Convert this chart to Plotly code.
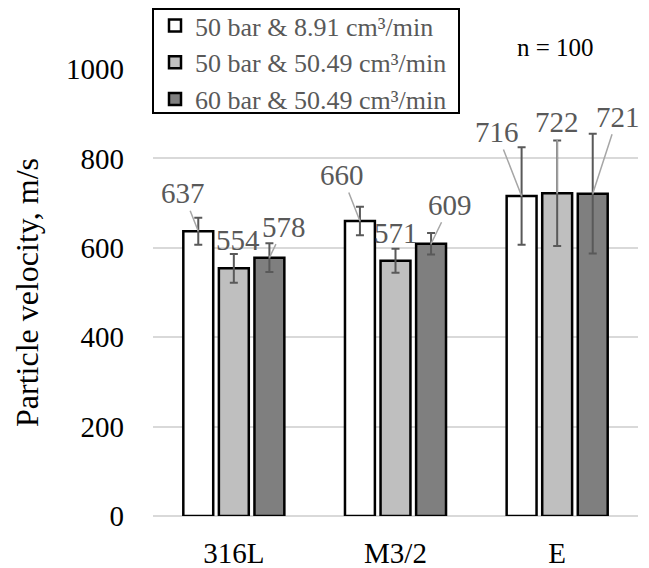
import plotly.graph_objects as go

# Materials on the x axis
categories = ["316L", "M3/2", "E"]

# Spray conditions (legend entries)
series_names = [
    "50 bar & 8.91 cm³/min",
    "50 bar & 50.49 cm³/min",
    "60 bar & 50.49 cm³/min",
]

# Mean particle velocity, m/s
velocity_5089 = [637, 660, 716]
velocity_5050 = [554, 571, 722]
velocity_6050 = [578, 609, 721]

# Standard deviation, m/s
std_5089 = [30, 32, 109]
std_5050 = [32, 27, 118]
std_6050 = [32, 24, 134]

y_ticks = [0, 200, 400, 600, 800, 1000]
sample_note = "n = 100"

means = [velocity_5089, velocity_5050, velocity_6050]
stds = [std_5089, std_5050, std_6050]
fills = ["#ffffff", "#bfbfbf", "#7f7f7f"]

SERIF = "Liberation Serif"
LABEL_GREY = "#595959"

# plot area in pixels
PL, PR, PT, PB = 153, 638, 69, 516
PW, PH = PR - PL, PB - PT


def px_x(px):
    return (px - PL) / PW


def px_y(py):
    return (PB - py) / PH


bar_w = 0.185
offsets = [-0.3125, -0.0925, 0.1275]
xpos = list(range(len(categories)))

fig = go.Figure()
for name, vals, err, fill, off in zip(series_names, means, stds, fills, offsets):
    fig.add_trace(go.Bar(
        x=xpos, y=vals, name=name,
        width=bar_w, offset=off,
        marker=dict(color=fill, line=dict(color="#000000", width=2.5)),
        error_y=dict(type="data", array=err, visible=True,
                     color="#595959", thickness=2, width=4),
    ))

# Callout offsets (pixels) of the value labels relative to each bar top;
# None means the label sits directly above the bar without a leader line.
callouts = [
    [(-15, -38), (-18, -46), (-25, -64)],
    [None, None, (0, -71)],
    [(15, -31), (19, -39), (25, -77)],
]
plain_shift = [[None, None, None], [(4, 28), (0, 28), None], [None, None, None]]

for s, (vals, off) in enumerate(zip(means, offsets)):
    for i, v in enumerate(vals):
        cx = xpos[i] + off + bar_w / 2
        c = callouts[s][i]
        if c is not None:
            fig.add_annotation(
                x=cx, y=v, xref="x", yref="y", text=str(v),
                showarrow=True, arrowhead=0, arrowwidth=1.5,
                arrowcolor="#a6a6a6", ax=c[0], ay=c[1],
                font=dict(family=SERIF, size=29, color=LABEL_GREY),
            )
        else:
            dx, dy = plain_shift[s][i]
            fig.add_annotation(
                x=cx, y=v, xref="x", yref="y", text=str(v),
                showarrow=False, xshift=dx, yshift=dy,
                font=dict(family=SERIF, size=29, color=LABEL_GREY),
            )

# sample-size note in the upper right of the plot area
fig.add_annotation(
    x=px_x(555), y=px_y(48), xref="paper", yref="paper",
    xanchor="center", yanchor="middle",
    text=sample_note, showarrow=False,
    font=dict(family=SERIF, size=25, color="#000000"),
)

# frame around the legend (the gridline shows through it)
fig.add_shape(
    type="rect", xref="paper", yref="paper",
    x0=px_x(153), x1=px_x(459), y0=px_y(113), y1=px_y(9),
    line=dict(color="#000000", width=2), fillcolor="rgba(0,0,0,0)",
    layer="above",
)

fig.update_layout(
    width=649, height=568,
    margin=dict(l=PL, r=649 - PR, t=PT, b=568 - PB, autoexpand=False),
    paper_bgcolor="#ffffff", plot_bgcolor="#ffffff",
    barmode="group",
    showlegend=True,
    font=dict(family=SERIF),
    legend=dict(
        x=px_x(155), y=px_y(2), xanchor="left", yanchor="top",
        bgcolor="rgba(0,0,0,0)", borderwidth=0,
        font=dict(family=SERIF, size=26, color=LABEL_GREY),
        traceorder="normal", itemwidth=30,
    ),
    xaxis=dict(
        tickmode="array", tickvals=xpos, ticktext=categories,
        range=[-0.5, 2.5], showgrid=False, zeroline=False,
        showline=False, ticks="", automargin=False,
        tickfont=dict(family=SERIF, size=29, color="#000000"),
        ticklabelstandoff=17,
    ),
    yaxis=dict(
        range=[0, 1000], tickvals=y_ticks, automargin=False,
        showgrid=True, gridcolor="#d9d9d9", gridwidth=2,
        zeroline=True, zerolinecolor="#d9d9d9", zerolinewidth=2,
        showline=False, ticks="",
        tickfont=dict(family=SERIF, size=29, color="#000000"),
        ticklabelstandoff=28,
        title=dict(text="Particle velocity, m/s", standoff=17,
                   font=dict(family=SERIF, size=32, color="#000000")),
    ),
)

fig.write_html("out.html")
